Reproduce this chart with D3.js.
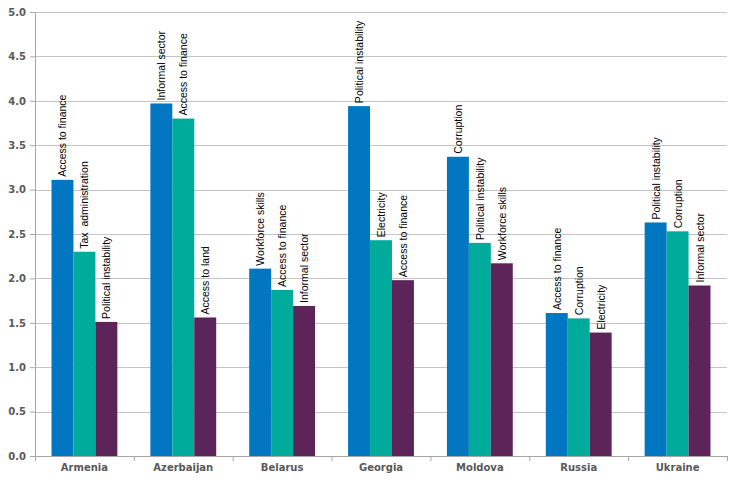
<!DOCTYPE html>
<html>
<head>
<meta charset="utf-8">
<script src="https://cdn.jsdelivr.net/npm/d3@7"></script>
<style>
  body { margin: 0; background: #fff; }
</style>
</head>
<body>
<div id="chart"></div>
<script>
// Countries and the three top obstacles for each
const countries = ["Armenia", "Azerbaijan", "Belarus", "Georgia", "Moldova", "Russia", "Ukraine"];
const firstValues  = [3.11, 3.97, 2.11, 3.94, 3.37, 1.61, 2.63];
const secondValues = [2.30, 3.80, 1.87, 2.43, 2.40, 1.55, 2.53];
const thirdValues  = [1.51, 1.56, 1.69, 1.98, 2.17, 1.39, 1.92];
const firstLabels  = ["Access to finance", "Informal sector", "Workforce skills", "Political instability", "Corruption", "Access to finance", "Political instability"];
const secondLabels = ["Tax  administration", "Access to finance", "Access to finance", "Electricity", "Political instability", "Corruption", "Corruption"];
const thirdLabels  = ["Political instability", "Access to land", "Informal sector", "Access to finance", "Workforce skills", "Electricity", "Informal sector"];
const yTicks = [0, 0.5, 1, 1.5, 2, 2.5, 3, 3.5, 4, 4.5, 5];

const colors = ["#0077c0", "#00ab9b", "#5c2459"];

// Build rows for drawing
const data = [];
countries.forEach((c, i) => {
    data.push({ country: c, idx: 0, value: firstValues[i], label: firstLabels[i] });
    data.push({ country: c, idx: 1, value: secondValues[i], label: secondLabels[i] });
    data.push({ country: c, idx: 2, value: thirdValues[i], label: thirdLabels[i] });
});

const margin = { top: 12, right: 18, bottom: 29, left: 35 };
const width = 745 - margin.left - margin.right;
const height = 485 - margin.top - margin.bottom;

const svg = d3.select("#chart")
    .append("svg")
    .attr("width", 745)
    .attr("height", 485)
    .append("g")
    .attr("transform", "translate(" + margin.left + "," + margin.top + ")");

const x0 = d3.scaleBand()
    .domain(countries)
    .range([0, width])
    .paddingInner(0)
    .paddingOuter(0);

const x1 = d3.scaleBand()
    .domain([0, 1, 2])
    .range([x0.bandwidth() * 0.167, x0.bandwidth() * 0.833]);

const y = d3.scaleLinear()
    .domain([0, 5])
    .range([height, 0]);

// Gridlines
svg.append("g")
    .selectAll("line")
    .data(yTicks.filter(t => t > 0))
    .enter()
    .append("line")
    .attr("x1", 0)
    .attr("x2", width)
    .attr("y1", d => Math.round(y(d)) + 0.5)
    .attr("y2", d => Math.round(y(d)) + 0.5)
    .attr("stroke", "#c4c4c4")
    .attr("stroke-width", 1);

// Y axis
const yAxis = svg.append("g")
    .call(d3.axisLeft(y).tickValues(yTicks).tickFormat(d3.format(".1f")).tickSize(5).tickPadding(4));
yAxis.select(".domain").attr("stroke", "#a6a6a6");
yAxis.selectAll(".tick line").attr("stroke", "#a6a6a6");
yAxis.selectAll(".tick text")
    .attr("fill", "#595959")
    .style("font-family", "'DejaVu Sans', sans-serif")
    .style("font-size", "10px")
    .style("font-weight", "bold");

// X axis
const xAxis = svg.append("g")
    .attr("transform", "translate(0," + height + ")")
    .call(d3.axisBottom(x0).tickSize(0).tickPadding(8));
xAxis.select(".domain").attr("stroke", "#a6a6a6");
xAxis.selectAll(".tick text")
    .attr("fill", "#595959")
    .style("font-family", "'DejaVu Sans', sans-serif")
    .style("font-size", "10px")
    .style("font-weight", "bold");

// Separator ticks between categories
svg.append("g")
    .selectAll("line")
    .data(d3.range(countries.length + 1))
    .enter()
    .append("line")
    .attr("x1", i => i * x0.step() + 0.5)
    .attr("x2", i => i * x0.step() + 0.5)
    .attr("y1", height)
    .attr("y2", height + 5)
    .attr("stroke", "#a6a6a6");

// Bars
const groups = svg.selectAll(".bar")
    .data(data)
    .enter()
    .append("g")
    .attr("transform", d => `translate(${x0(d.country)}, 0)`);

groups.append("rect")
    .attr("x", d => x1(d.idx))
    .attr("y", d => y(d.value))
    .attr("width", x1.bandwidth())
    .attr("height", d => height - y(d.value))
    .attr("fill", d => colors[d.idx]);

// Rotated labels above bars
groups.append("text")
    .attr("transform", d => `translate(${x1(d.idx) + x1.bandwidth() / 2 + 4}, ${y(d.value) - 3}) rotate(-90)`)
    .style("font-family", "'Liberation Sans', Arial, sans-serif")
    .style("font-size", "10.5px")
    .style("white-space", "pre")
    .attr("fill", "#000")
    .text(d => d.label);
</script>
</body>
</html>
